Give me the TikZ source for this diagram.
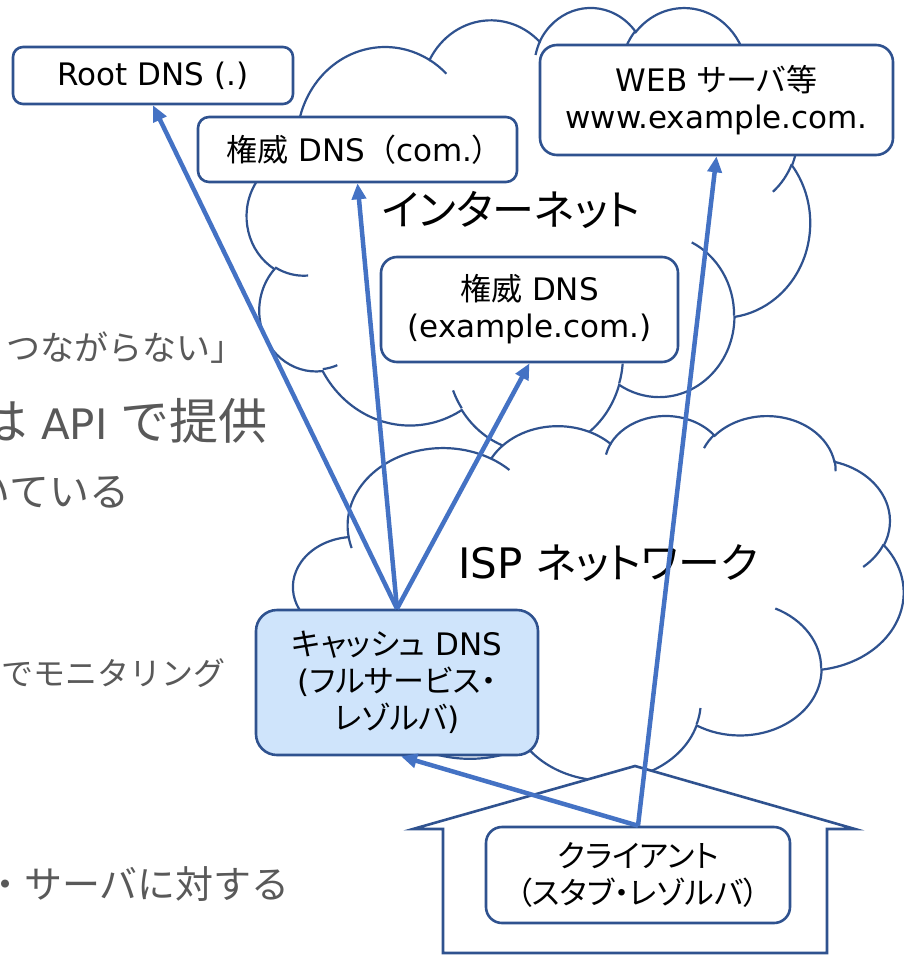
\documentclass[tikz,border=0pt]{standalone}
\usepackage{fontspec}
\setmainfont{DejaVu Sans}
\newfontfamily\jp[RawFeature=+palt]{Noto Sans CJK JP}
\newfontfamily\jpw{Noto Sans CJK JP}
\usetikzlibrary{arrows.meta}

\definecolor{lineblue}{HTML}{2F528F}
\definecolor{arrowblue}{HTML}{4472C4}
\definecolor{cachefill}{HTML}{CFE4FB}
\definecolor{notegray}{HTML}{595959}

\newcommand\dnsfont{\fontsize{31}{37}\selectfont}
\newcommand\labelfont{\fontsize{42}{50}\selectfont}

% Cloud outline on a 43.2 x 43.2 grid (y pointing down), placed with its
% top left corner at (#1,#2); #3 and #4 are the x and y unit lengths in pt
\newcommand\cloudat[4]{%
  \begin{scope}[shift={(#1,#2)}, x=#3pt, y=-#4pt]
    \path[cloudline, fill=white] (3.900,14.370)
      arc[x radius=6.753, y radius=9.190, start angle=-187.745, end angle=-59.625]
      arc[x radius=5.333, y radius=7.267, start angle=-152.022, end angle=-45.456]
      arc[x radius=4.365, y radius=5.945, start angle=-153.489, end angle=-37.319]
      arc[x radius=4.857, y radius=6.595, start angle=-139.713, end angle=-10.212]
      arc[x radius=5.333, y radius=7.273, start angle=-74.768, end angle=23.210]
      arc[x radius=6.775, y radius=9.220, start angle=-37.518, end angle=81.862]
      arc[x radius=5.785, y radius=7.867, start angle=0.460, end angle=121.976]
      arc[x radius=6.752, y radius=9.215, start angle=16.845, end angle=146.237]
      arc[x radius=7.720, y radius=10.543, start angle=58.989, end angle=150.185]
      arc[x radius=4.360, y radius=5.918, start angle=-276.694, end angle=-136.894]
      arc[x radius=4.345, y radius=5.945, start angle=-239.647, end angle=-95.887]
      -- cycle;
    % inner strokes between the bumps
    \draw[cloudline] (4.693,26.177) arc[x radius=4.345, y radius=5.945, start angle=85.547, end angle=120.353];
    \draw[cloudline] (6.928,34.899) arc[x radius=4.360, y radius=5.918, start angle=68.228, end angle=83.306];
    \draw[cloudline] (16.478,39.090) arc[x radius=6.752, y radius=9.215, start angle=146.237, end angle=158.473];
    \draw[cloudline] (28.827,34.751) arc[x radius=6.752, y radius=9.215, start angle=4.738, end angle=16.845];
    \draw[cloudline] (34.129,22.954) arc[x radius=5.785, y radius=7.867, start angle=-63.981, end angle=0.460];
    \draw[cloudline] (41.798,15.354) arc[x radius=5.333, y radius=7.273, start angle=23.210, end angle=49.640];
    \draw[cloudline] (38.324,5.426) arc[x radius=4.857, y radius=6.595, start angle=-10.212, end angle=0.821];
    \draw[cloudline] (29.078,3.952) arc[x radius=4.857, y radius=6.595, start angle=-156.282, end angle=-139.713];
    \draw[cloudline] (22.141,4.720) arc[x radius=4.365, y radius=5.945, start angle=-167.720, end angle=-153.489];
    \draw[cloudline] (14.000,5.192) arc[x radius=6.753, y radius=9.190, start angle=-59.625, end angle=-45.733];
    \draw[cloudline] (4.127,15.789) arc[x radius=6.753, y radius=9.190, start angle=163.193, end angle=172.255];
  \end{scope}}

\tikzset{
  cloudline/.style={draw=lineblue, line width=2.2pt},
  dnsbox/.style={draw=lineblue, line width=2.6pt, fill=white, rounded corners=#1,
    inner sep=0pt, align=center, font=\dnsfont, text=black},
  dnsbox/.default=10pt,
  query/.style={draw=arrowblue, line width=4.5pt, -{Triangle[length=16pt,width=14pt]}},
  note/.style={text=notegray, inner sep=0pt, anchor=base east},
}

\begin{document}
\begin{tikzpicture}[x=1pt, y=-1pt]
  \useasboundingbox (0,0) rectangle (904,955);
  \clip (0,0) rectangle (904,955);

  % notes running in from the left
  \node[note, font=\jpw\fontsize{34}{40}\selectfont] (n1) at (245,360) {つながらない」};
  \node[note, font=\fontsize{42}{50}\selectfont] (n2) at (268,439)
    {{\jpw\fontsize{49}{56}\selectfont は} API {\jpw\fontsize{49}{56}\selectfont で提供}};
  \node[note, font=\jpw\fontsize{40}{48}\selectfont] (n3) at (130,506) {いている};
  \node[note, font=\jpw\fontsize{32}{38}\selectfont] (n4) at (226,685) {でモニタリング};
  \node[note, font=\jpw\fontsize{38}{44}\selectfont] (n5) at (290,898) {・サーバに対する};

  % networks
  \cloudat{247}{6.5}{13.0324}{10.2778}
  \node[font=\jp\labelfont] (inet) at (511,210) {インターネット};

  \cloudat{293.4}{414.8}{14.1204}{8.4375}
  \node[font=\labelfont] (isp) at (608,563) {ISP {\jp ネットワーク}};

  % servers
  \node[dnsbox, minimum width=280pt, minimum height=57pt] (root) at (153,75.5) {Root DNS (.)};
  \node[dnsbox=11pt, minimum width=319pt, minimum height=65pt] (com) at (357.5,149.5)
    {{\jp 権威} DNS{\jpw （}com.{\jp ）}};
  \node[dnsbox=17pt, minimum width=353pt, minimum height=110pt] (web) at (716.5,100)
    {WEB {\jp サーバ等}\\www.example.com.};
  \node[dnsbox=16pt, minimum width=297pt, minimum height=105pt] (auth) at (529.5,309.5)
    {{\jp 権威} DNS\\(example.com.)};
  \node[dnsbox=21pt, fill=cachefill, minimum width=282pt, minimum height=145pt] (cache) at (397,682.5)
    {{\jp キャッシュ} DNS\\({\jp フルサービス・}\\{\jp レゾルバ})};

  % client premises
  \draw[lineblue, line width=2.6pt, fill=white]
    (635,766) -- (855,829) -- (827,829) -- (827,953) -- (443,953) -- (443,829) -- (413,829) -- cycle;
  \node[dnsbox=16pt, minimum width=304pt, minimum height=96pt] (client) at (638,875)
    {{\jp クライアント}\\{\jp （スタブ・レゾルバ）}};

  % queries
  \draw[query] (cache.north) -- (root.south);
  \draw[query] (cache.north) -- (com.south);
  \draw[query] (cache.north) -- (auth.south);
  \draw[query] (client.north) -- ([xshift=4pt]cache.south);
  \draw[query] (client.north) -- (web.south);
\end{tikzpicture}
\end{document}
